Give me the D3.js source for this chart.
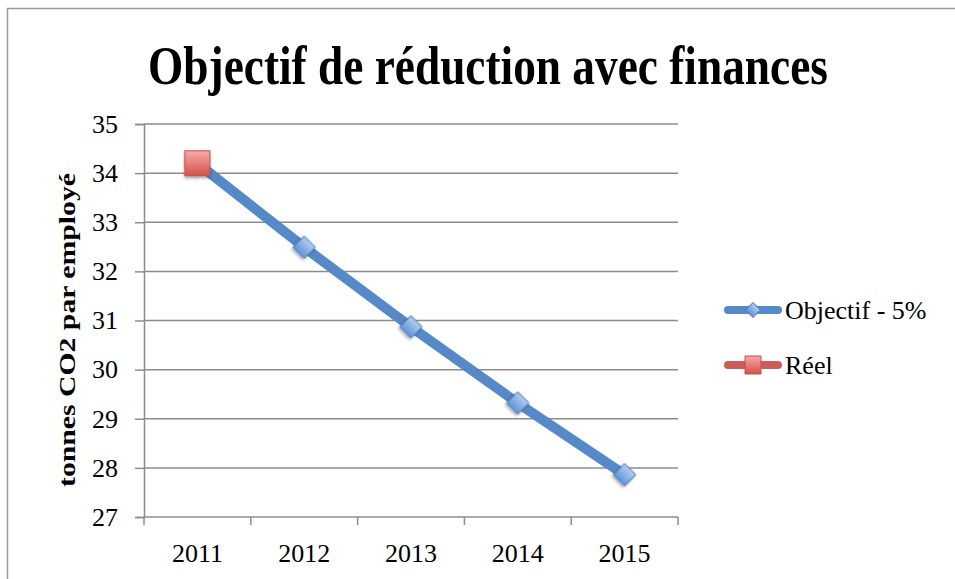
<!DOCTYPE html>
<html>
<head>
<meta charset="utf-8">
<script src="https://cdn.jsdelivr.net/npm/d3@7"></script>
<style>
  body { margin: 0; background: #fff; }
  svg { display: block; }
</style>
</head>
<body>
<div id="chart"></div>
<script>
// données
var years = ["2011", "2012", "2013", "2014", "2015"];
var objectif = [34.2, 32.49, 30.87, 29.32, 27.86];
var reel = [34.2];
var yTicks = [27, 28, 29, 30, 31, 32, 33, 34, 35];

var width = 955, height = 579;
var plot = {left: 144, right: 678, top: 124, bottom: 517};
var serif = "Liberation Serif";

var svg = d3.select("#chart").append("svg")
    .attr("width", width)
    .attr("height", height);

var defs = svg.append("defs");
var gBlue = defs.append("linearGradient").attr("id", "gBlue").attr("x1", 0).attr("y1", 0).attr("x2", 0).attr("y2", 1);
gBlue.append("stop").attr("offset", "0%").attr("stop-color", "#b3cdf0");
gBlue.append("stop").attr("offset", "100%").attr("stop-color", "#5f93d6");
var gRed = defs.append("linearGradient").attr("id", "gRed").attr("x1", 0).attr("y1", 0).attr("x2", 0).attr("y2", 1);
gRed.append("stop").attr("offset", "0%").attr("stop-color", "#f7aaa8");
gRed.append("stop").attr("offset", "100%").attr("stop-color", "#d5504c");
var shadow = defs.append("filter").attr("id", "shadow").attr("x", "-50%").attr("y", "-50%").attr("width", "200%").attr("height", "200%");
shadow.append("feDropShadow").attr("dx", 0).attr("dy", 2).attr("stdDeviation", 1.5).attr("flood-color", "#000").attr("flood-opacity", 0.35);

// cadre
svg.append("path")
    .attr("d", "M7.5," + height + "V8.5H" + width)
    .attr("fill", "none")
    .attr("stroke", "#9a9a9a")
    .attr("stroke-width", 1.5);

// titre : police resserrée horizontalement pour tenir dans 680px
var title = svg.append("text")
    .attr("text-anchor", "middle")
    .attr("font-family", serif)
    .attr("font-weight", "bold")
    .attr("font-size", 54)
    .text("Objectif de réduction avec finances");
var tw = title.node().getComputedTextLength();
title.attr("transform", "translate(488,84) scale(" + (680 / tw) + ",1)");

var x = d3.scaleBand().domain(years).range([plot.left, plot.right]);
var y = d3.scaleLinear().domain([27, 35]).range([plot.bottom, plot.top]);

// grille
svg.append("g")
  .selectAll("line")
  .data(yTicks.slice(1))
  .enter().append("line")
    .attr("x1", plot.left)
    .attr("x2", plot.right)
    .attr("y1", function(d) { return y(d); })
    .attr("y2", function(d) { return y(d); })
    .attr("stroke", "#8c8c8c")
    .attr("stroke-width", 1.5);

var yAxis = svg.append("g")
    .attr("transform", "translate(" + plot.left + ",0)")
    .call(d3.axisLeft(y).tickValues(yTicks).tickSize(9).tickPadding(17));
var xAxis = svg.append("g")
    .attr("transform", "translate(0," + plot.bottom + ")")
    .call(d3.axisBottom(x).tickSize(0).tickPadding(27));

[yAxis, xAxis].forEach(function(a) {
  a.select(".domain").attr("stroke", "#8c8c8c").attr("stroke-width", 1.5);
  a.selectAll(".tick line").attr("stroke", "#8c8c8c").attr("stroke-width", 1.5);
  a.selectAll("text")
    .attr("font-family", serif)
    .attr("font-size", 26)
    .attr("fill", "#000");
});
xAxis.select(".domain").attr("d", "M" + plot.left + ",0H" + plot.right);

// graduations entre les années
svg.append("g")
  .selectAll("line")
  .data(years.concat(["fin"]))
  .enter().append("line")
    .attr("x1", function(d, i) { return plot.left + i * x.bandwidth(); })
    .attr("x2", function(d, i) { return plot.left + i * x.bandwidth(); })
    .attr("y1", plot.bottom)
    .attr("y2", plot.bottom + 8)
    .attr("stroke", "#8c8c8c")
    .attr("stroke-width", 1.5);

svg.append("text")
    .attr("transform", "translate(75,330) rotate(-90)")
    .attr("text-anchor", "middle")
    .attr("font-family", serif)
    .attr("font-weight", "bold")
    .attr("font-size", 24)
    .attr("textLength", 314)
    .attr("lengthAdjust", "spacingAndGlyphs")
    .text("tonnes CO2 par employé");

var cx = function(d, i) { return x(years[i]) + x.bandwidth() / 2; };

var line = d3.line()
    .x(function(d, i) { return cx(d, i); })
    .y(function(d) { return y(d); });

svg.append("path")
    .datum(objectif)
    .attr("d", line)
    .attr("fill", "none")
    .attr("stroke", "#5589c7")
    .attr("stroke-width", 10)
    .attr("stroke-linecap", "round");

var diamond = d3.symbol().type(d3.symbolSquare).size(250);

svg.append("g")
  .selectAll("path")
  .data(objectif)
  .enter().append("path")
    .attr("d", diamond)
    .attr("transform", function(d, i) { return "translate(" + cx(d, i) + "," + y(d) + ") rotate(45)"; })
    .attr("fill", "url(#gBlue)")
    .attr("stroke", "#4f81bd")
    .attr("stroke-width", 1)
    .attr("filter", "url(#shadow)");

svg.append("g")
  .selectAll("rect")
  .data(reel)
  .enter().append("rect")
    .attr("x", function(d, i) { return cx(d, i) - 12.5; })
    .attr("y", function(d) { return y(d) - 12.5; })
    .attr("width", 25)
    .attr("height", 25)
    .attr("fill", "url(#gRed)")
    .attr("stroke", "#c0504d")
    .attr("stroke-width", 1)
    .attr("filter", "url(#shadow)");

// légende
var legend = svg.append("g")
  .selectAll("g")
  .data([
    {name: "Objectif - 5%", color: "#5589c7", type: "diamond"},
    {name: "Réel", color: "#cd5c58", type: "square"}
  ])
  .enter().append("g")
    .attr("transform", function(d, i) { return "translate(0," + (310 + i * 55) + ")"; });

legend.append("line")
    .attr("x1", 728)
    .attr("x2", 778)
    .attr("stroke", function(d) { return d.color; })
    .attr("stroke-width", 8)
    .attr("stroke-linecap", "round");

legend.append("path")
    .attr("d", function(d) { return d.type == "diamond" ? d3.symbol().type(d3.symbolSquare).size(110)() : "M-8,-9H8V9H-8Z"; })
    .attr("transform", function(d) { return "translate(753,0)" + (d.type == "diamond" ? " rotate(45)" : ""); })
    .attr("fill", function(d) { return d.type == "diamond" ? "url(#gBlue)" : "url(#gRed)"; })
    .attr("stroke", function(d) { return d.type == "diamond" ? "#4f81bd" : "#c0504d"; })
    .attr("stroke-width", 1);

legend.append("text")
    .attr("x", 785)
    .attr("y", 9)
    .attr("font-family", serif)
    .attr("font-size", 26)
    .text(function(d) { return d.name; });
</script>
</body>
</html>
